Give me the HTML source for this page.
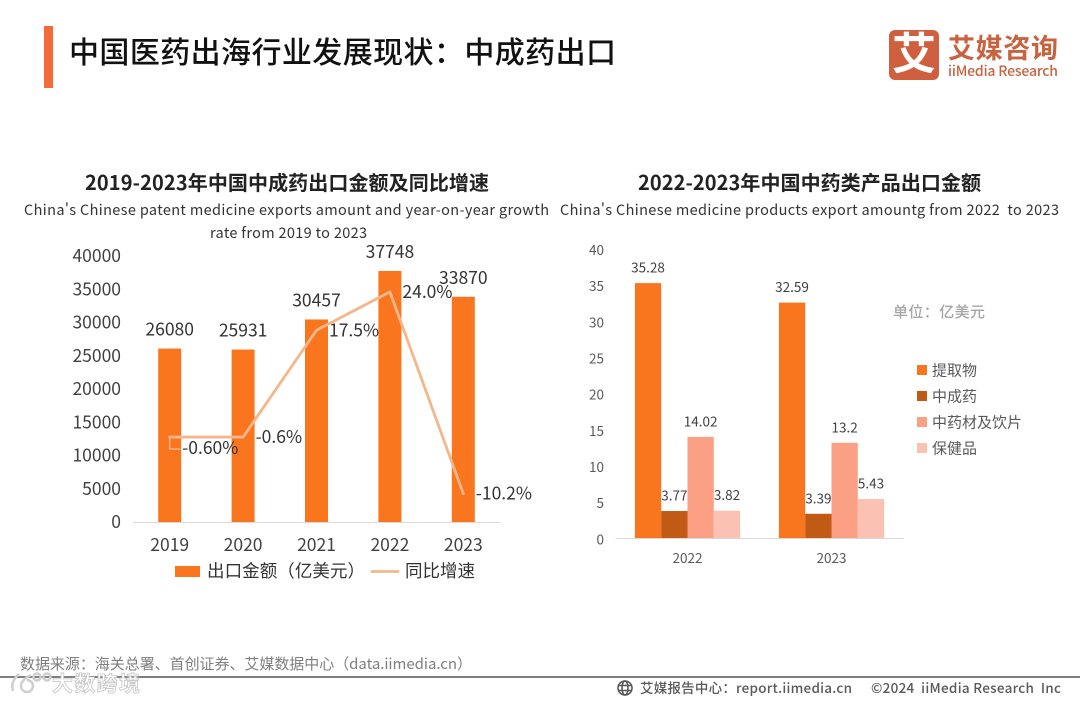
<!DOCTYPE html>
<html lang="zh-CN">
<head>
<meta charset="utf-8">
<title>中国医药出海行业发展现状&#xFF1A;中成药出口</title>
<style>
html,body{margin:0;padding:0;background:#fff;}
svg{display:block;filter:blur(0.35px);}
text{font-family:"Noto Sans CJK SC","Liberation Sans",sans-serif;}
</style>
</head>
<body>
<svg id="page" xmlns="http://www.w3.org/2000/svg" width="1080" height="702" viewBox="0 0 1080 702">
  <rect x="0" y="0" width="1080" height="702" fill="#ffffff"/>
  <rect x="44" y="26" width="9" height="62" fill="#F26B38"/>
  <text x="69" y="63" font-size="30" font-weight="500" fill="#111111" textLength="547">中国医药出海行业发展现状&#xFF1A;中成药出口</text>

  <g>
    <rect x="889" y="30" width="50" height="50" rx="6" fill="#CF5F3E"/>
    <text x="914" y="69" font-size="44" font-weight="700" fill="#ffffff" text-anchor="middle">艾</text>
    <text x="948" y="58" font-size="27" font-weight="700" fill="#C9623F" textLength="110">艾媒咨询</text>
    <text x="948" y="76" font-size="14" font-weight="500" fill="#C9623F" textLength="110">iiMedia Research</text>
  </g>

  <text x="85" y="190" font-size="20" font-weight="700" fill="#222222" textLength="404">2019-2023年中国中成药出口金额及同比增速</text>
  <text x="24" y="215" font-size="14.5" fill="#333333" textLength="525">China's Chinese patent medicine exports amount and year-on-year growth</text>
  <text x="210" y="238" font-size="14.5" fill="#333333" textLength="157">rate from 2019 to 2023</text>

  <text x="638" y="190" font-size="20" font-weight="700" fill="#222222" textLength="343">2022-2023年中国中药类产品出口金额</text>
  <text x="560" y="215" font-size="14.5" fill="#333333" textLength="499">China's Chinese medicine products export amountg from 2022&#160;&#160;to 2023</text>

  <g id="left-chart"></g>
  <g id="right-chart"></g>

  <text x="893" y="317" font-size="15" font-weight="500" fill="#A6A6A6" textLength="92">单位&#xFF1A;亿美元</text>

  <text x="20" y="669" font-size="15" fill="#7F7F7F" textLength="452">数据来源&#xFF1A;海关总署、首创证券、艾媒数据中心&#xFF08;data.iimedia.cn&#xFF09;</text>
  <rect x="0" y="676" width="1080" height="2" fill="#7F7F7F"/>
  <text x="52" y="691" font-size="21" font-weight="700" fill="#ffffff" stroke="#C4C4C4" stroke-width="0.8" textLength="88">大数跨境</text>
  <g fill="none" stroke="#CFCFCF" stroke-width="2.5">
    <path d="M19 674 Q10 682 13 691"/>
    <path d="M31 675 Q21 680 21 686 A6 6 0 1 0 27 680"/>
    <circle cx="37" cy="677" r="3.5"/>
    <circle cx="47" cy="677" r="3.5"/>
  </g>
  <g fill="none" stroke="#595959" stroke-width="1.6">
    <circle cx="625" cy="688" r="7"/>
    <ellipse cx="625" cy="688" rx="3" ry="7"/>
    <path d="M618 685.500H632M618 690.500H632"/>
  </g>
  <text x="640" y="693" font-size="13.500" font-weight="500" fill="#595959" textLength="212">艾媒报告中心&#xFF1A;report.iimedia.cn</text>
  <text x="871" y="693" font-size="13.500" font-weight="500" fill="#595959" textLength="190">©2024&#160;&#160;iiMedia Research&#160;&#160;Inc</text>
</svg>

<script>
// Left chart data
var exportYears = ['2019', '2020', '2021', '2022', '2023'];
var exportAmounts = [26080, 25931, 30457, 37748, 33870];
var growthRates = [-0.6, -0.6, 17.5, 24.0, -10.2];
var growthLabels = ['-0.60%', '-0.6%', '17.5%', '24.0%', '-10.2%'];
var exportTicks = [0, 5000, 10000, 15000, 20000, 25000, 30000, 35000, 40000];

// Right chart data
var productYears = ['2022', '2023'];
var extractValues = [35.28, 32.59];
var patentValues = [3.77, 3.39];
var herbValues = [14.02, 13.2];
var healthValues = [3.82, 5.43];
var productNames = ['提取物', '中成药', '中药材及饮片', '保健品'];
var productTicks = [0, 5, 10, 15, 20, 25, 30, 35, 40];

var NS = 'http://www.w3.org/2000/svg';
function make(tag, parent, attrs, content) {
  var el = document.createElementNS(NS, tag);
  for (var k in attrs) { el.setAttribute(k, attrs[k]); }
  if (content !== undefined) { el.textContent = content; }
  parent.appendChild(el);
  return el;
}

/* ---------- Left chart ---------- */
(function () {
  var root = document.getElementById('left-chart');
  var axisLeft = 133, axisRight = 500, baseY = 522, topY = 256, maxTick = 40000;
  var band = (axisRight - axisLeft) / exportYears.length;
  var barW = 23;
  function xPos(i) { return axisLeft + band * (i + 0.5); }
  function yPos(v) { return baseY - (baseY - topY) * v / maxTick; }
  // hidden secondary axis for the growth line
  var growthZeroY = 433.5, growthScale = 5.9;
  function yGrowth(v) { return growthZeroY - v * growthScale; }

  exportTicks.forEach(function (t) {
    var el = make('text', root, { x: 121, y: yPos(t) + 6, 'font-size': 17.5, fill: '#404040', 'text-anchor': 'end' }, String(t));
    
    
  });

  exportAmounts.forEach(function (v, i) {
    var bar = make('rect', root, { x: xPos(i) - barW / 2, y: yPos(v), width: barW, height: baseY - yPos(v), fill: '#F9761E' });
    
    
  });

  var axis = make('line', root, { x1: axisLeft, x2: axisRight, y1: baseY + 0.5, y2: baseY + 0.5, stroke: '#D9D9D9', 'stroke-width': 1 });
  
  

  exportYears.forEach(function (y, i) {
    var el = make('text', root, { x: xPos(i), y: 551, 'font-size': 17.5, fill: '#404040', 'text-anchor': 'middle' }, y);
    
    
  });

  exportAmounts.forEach(function (v, i) {
    var el = make('text', root, { x: xPos(i), y: yPos(v) - 13, 'font-size': 17.5, fill: '#333333', 'text-anchor': 'middle' }, String(v));
    
    
  });

  var pts = growthRates.map(function (v, i) { return xPos(i) + ',' + yGrowth(v); }).join(' ');
  var leader = make('path', root, { d: 'M' + xPos(0) + ' ' + yGrowth(growthRates[0]) + 'v12h11', fill: 'none', stroke: '#F6CDB2', 'stroke-width': 1 });
  
  
  var line = make('polyline', root, { points: pts, fill: 'none', stroke: '#F4B68A', 'stroke-width': 2.8, 'stroke-linejoin': 'round', 'stroke-linecap': 'round' });
  
  

  growthLabels.forEach(function (label, i) {
    var shift = i === 0 ? 11 : 0;
    var el = make('text', root, { x: xPos(i) + 12.5, y: yGrowth(growthRates[i]) + 6 + shift, 'font-size': 17.5, fill: '#333333' }, label);
    
    
  });

  var swatch = make('rect', root, { x: 175, y: 566, width: 25, height: 11, fill: '#F9761E' });
  
  
  var t1 = make('text', root, { x: 207, y: 577, 'font-size': 17.5, fill: '#333333', textLength: 158 }, '出口金额\uFF08亿美元\uFF09');
  
  
  var ll = make('line', root, { x1: 372, x2: 398, y1: 571.5, y2: 571.5, stroke: '#F4B68A', 'stroke-width': 2.8, 'stroke-linecap': 'round' });
  
  
  var t2 = make('text', root, { x: 405, y: 577, 'font-size': 17.5, fill: '#333333' }, '同比增速');
  
  
})();

/* ---------- Right chart ---------- */
(function () {
  var root = document.getElementById('right-chart');
  var axisLeft = 615.5, axisRight = 903.5, baseY = 538.3, topY = 249, maxTick = 40;
  var band = (axisRight - axisLeft) / productYears.length;
  var barW = 26.3;
  var series = [extractValues, patentValues, herbValues, healthValues];
  var colors = ['#F9761E', '#C05A14', '#FB9F85', '#FBC2B3'];
  function groupX(g) { return axisLeft + band * (g + 0.5); }
  function barX(g, s) { return groupX(g) - barW * series.length / 2 + barW * s; }
  function yPos(v) { return baseY - (baseY - topY) * v / maxTick; }

  productTicks.forEach(function (t) {
    var el = make('text', root, { x: 604, y: yPos(t) + 6, 'font-size': 13.5, fill: '#595959', 'text-anchor': 'end' }, String(t));
    
    
  });

  series.forEach(function (vals, s) {
    vals.forEach(function (v, g) {
      var bar = make('rect', root, { x: barX(g, s), y: yPos(v), width: barW, height: baseY - yPos(v), fill: colors[s] });
      
      
      var lab = make('text', root, { x: barX(g, s) + barW / 2, y: yPos(v) - 10.5, 'font-size': 13.5, fill: '#404040', 'text-anchor': 'middle' }, String(v));
      
      
    });
  });

  var axis = make('line', root, { x1: axisLeft, x2: axisRight, y1: baseY + 0.2, y2: baseY + 0.2, stroke: '#D9D9D9', 'stroke-width': 1 });
  
  

  productYears.forEach(function (y, g) {
    var el = make('text', root, { x: groupX(g), y: 563, 'font-size': 13.5, fill: '#595959', 'text-anchor': 'middle' }, y);
    
    
  });

  productNames.forEach(function (name, i) {
    var rowY = 370 + 26 * i;
    var sw = make('rect', root, { x: 917, y: rowY - 5, width: 10, height: 10, fill: colors[i] });
    
    
    var lab = make('text', root, { x: 932, y: rowY + 5.5, 'font-size': 15, fill: '#595959' }, name);
    
    
  });
})();
</script>
</body>
</html>
